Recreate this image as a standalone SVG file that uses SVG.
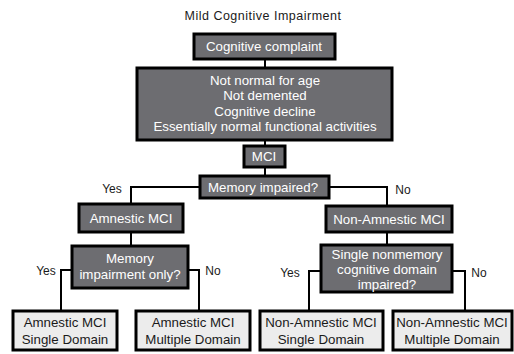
<svg xmlns="http://www.w3.org/2000/svg" width="514" height="354" viewBox="0 0 514 354">
<style>
text{font-family:"Liberation Sans",Arial,sans-serif;font-size:13.3px;text-anchor:middle}
.d rect{fill:#6d6d71;stroke:#000;stroke-width:3}
.d text{fill:#fff}
.l rect{fill:#ececec;stroke:#000;stroke-width:3}
.l text{fill:#1a1a1a}
.c{fill:none;stroke:#000;stroke-width:2}
.lab{fill:#1a1a1a;font-size:12px}
</style>
<text x="263" y="20" style="font-size:12.5px;letter-spacing:0.5px;fill:#1a1a1a">Mild Cognitive Impairment</text>
<g id="connectors">
<path class="c" d="M265 59V68M265 140V146M265 167V176"/>
<path class="c" d="M200 187H131V204M131 232V246"/>
<path class="c" d="M329 187H387V206M387 232V245"/>
<path class="c" d="M72 270H61V311M188 270H199V311"/>
<path class="c" d="M321 271H309V311M452 271H465V311"/>
<text class="lab" x="112" y="193">Yes</text>
<text class="lab" x="403" y="194">No</text>
<text class="lab" x="46" y="275">Yes</text>
<text class="lab" x="213" y="275">No</text>
<text class="lab" x="290" y="277">Yes</text>
<text class="lab" x="479" y="277">No</text>
</g>
<g id="complaint" class="d"><rect x="194" y="34" width="141" height="25"/><text x="264" y="51">Cognitive complaint</text></g>
<g id="criteria" class="d"><rect x="137" y="68" width="255" height="72"/>
<text x="265" y="85">Not normal for age</text><text x="265" y="100">Not demented</text><text x="265" y="116">Cognitive decline</text><text x="265" y="131">Essentially normal functional activities</text></g>
<g id="mci" class="d"><rect x="244" y="146" width="41" height="21"/><text x="264" y="161">MCI</text></g>
<g id="memimp" class="d"><rect x="200" y="176" width="129" height="22"/><text x="263" y="192">Memory impaired?</text></g>
<g id="amnestic" class="d"><rect x="79" y="204" width="104" height="28"/><text x="131" y="223">Amnestic MCI</text></g>
<g id="nonamnestic" class="d"><rect x="326" y="206" width="126" height="26"/><text x="389" y="224">Non-Amnestic MCI</text></g>
<g id="memonly" class="d"><rect x="72" y="246" width="116" height="42"/><text x="130" y="263">Memory</text><text x="130" y="279">impairment only?</text></g>
<g id="singlenon" class="d"><rect x="321" y="245" width="131" height="47"/><text x="387" y="259">Single nonmemory</text><text x="387" y="274">cognitive domain</text><text x="387" y="289">impaired?</text></g>
<g id="amsingle" class="l"><rect x="13" y="311" width="104" height="39"/><text x="65" y="327">Amnestic MCI</text><text x="65" y="344">Single Domain</text></g>
<g id="ammulti" class="l"><rect x="136" y="311" width="114" height="39"/><text x="193" y="327">Amnestic MCI</text><text x="193" y="344">Multiple Domain</text></g>
<g id="nasingle" class="l"><rect x="260" y="311" width="123" height="39"/><text x="321" y="327">Non-Amnestic MCI</text><text x="321" y="344">Single Domain</text></g>
<g id="namulti" class="l"><rect x="393" y="311" width="119" height="39"/><text x="452" y="327">Non-Amnestic MCI</text><text x="452" y="344">Multiple Domain</text></g>
</svg>
